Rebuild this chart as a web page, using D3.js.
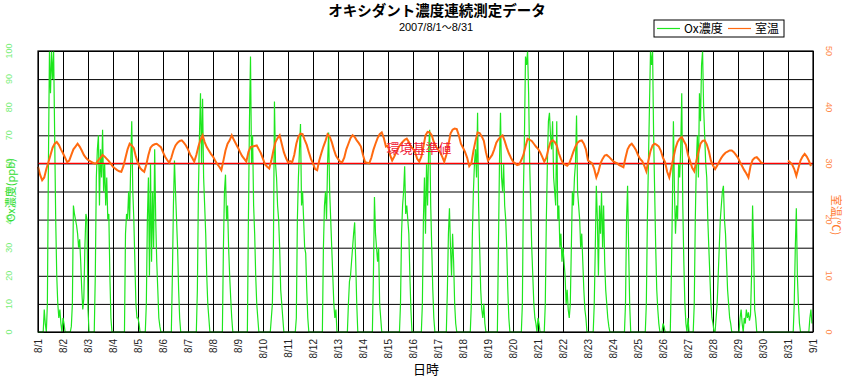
<!DOCTYPE html>
<html><head><meta charset="utf-8">
<script src="https://cdn.jsdelivr.net/npm/d3@7"></script>
<style>
body{margin:0;background:#fff}
svg{display:block;font-family:"Liberation Sans",Arial,sans-serif}
</style></head>
<body><svg id="c" width="846" height="378"></svg>
<script>
// ---- data ----
const dateLabels = ["8/1","8/2","8/3","8/4","8/5","8/6","8/7","8/8","8/9","8/10","8/11","8/12","8/13","8/14","8/15","8/16","8/17","8/18","8/19","8/20","8/21","8/22","8/23","8/24","8/25","8/26","8/27","8/28","8/29","8/30","8/31","9/1"];
const oxTicks = [0,10,20,30,40,50,60,70,80,90,100];
const tempTicks = [0,10,20,30,40,50];
const standardOx = 60;
// hourly Ox (ppb), 8/1 0:00 .. 8/31 23:00
const oxValues = [
0,0,0,0,0,0,8,3,0,10,60,100,85,100,90,100,70,40,20,10,5,8,3,0,
5,3,0,0,0,0,0,0,2,10,45,42,40,38,35,30,33,25,15,8,12,30,42,40,
8,0,0,0,0,0,0,20,55,65,70,45,65,55,72,50,60,45,55,40,42,20,5,0,
0,0,0,0,0,0,0,0,0,0,0,0,35,42,40,50,40,60,75,50,40,25,10,5,
5,3,0,0,0,0,0,0,10,40,55,20,60,25,50,30,65,40,25,15,5,2,0,0,
0,0,0,0,0,0,0,0,0,20,45,61,50,40,30,15,5,0,0,0,0,0,0,0,
0,0,0,0,0,0,0,0,0,15,50,70,85,60,83,55,45,35,20,10,5,0,0,0,
0,0,0,0,0,0,0,0,0,0,30,50,56,40,45,30,20,12,5,0,0,0,0,0,
0,0,0,0,0,0,0,0,0,0,40,75,98,60,70,45,35,20,10,5,0,0,0,0,
0,0,0,0,0,0,0,0,5,10,30,82,60,55,45,40,30,15,10,5,0,0,0,0,
0,0,0,0,0,0,0,0,5,40,55,65,74,45,50,40,30,28,15,5,0,0,0,0,
0,0,0,0,0,0,0,0,0,0,30,45,50,40,60,71,50,40,30,20,10,5,8,0,
0,0,0,0,0,0,0,0,0,0,10,18,20,25,30,35,39,25,10,0,0,0,0,0,
0,0,0,0,0,0,0,0,0,0,20,48,35,30,25,30,10,5,0,0,0,0,0,0,
0,0,0,0,0,0,0,0,0,0,0,0,10,35,45,50,59,42,45,40,35,20,8,0,
0,0,0,0,0,0,0,0,0,10,40,55,35,60,45,65,72,45,30,15,5,0,0,0,
0,0,0,0,0,0,0,0,0,15,35,44,30,20,35,25,10,3,0,0,0,0,0,0,
0,0,0,0,0,0,0,0,10,35,50,60,65,55,78,45,30,15,8,5,10,3,0,0,
0,0,0,0,0,0,0,0,0,0,30,60,78,55,50,60,45,40,30,15,5,0,0,0,
0,0,0,0,0,0,0,0,0,10,50,70,98,95,100,85,60,45,30,20,10,5,3,0,
5,3,0,0,0,0,0,10,40,60,75,78,70,65,75,55,50,45,75,40,45,30,35,25,
30,25,20,10,15,8,5,10,30,50,45,55,60,77,50,45,40,30,35,25,15,8,5,0,
0,0,0,0,0,0,10,30,52,40,20,45,35,50,30,45,25,15,10,5,2,0,0,0,
0,0,0,0,0,0,0,0,0,0,0,0,10,40,52,30,10,0,0,0,0,0,0,0,
0,0,0,0,0,0,0,0,10,40,60,80,100,95,100,70,50,30,15,8,3,0,0,0,
3,2,0,0,0,0,0,0,20,45,75,50,35,45,40,60,55,65,85,45,25,10,3,0,
5,0,0,0,0,0,10,40,60,70,55,85,75,95,100,80,70,60,55,40,30,20,10,5,
3,0,0,5,10,20,30,40,45,50,52,40,35,25,15,10,5,3,0,0,0,0,0,0,
0,0,5,8,3,0,5,3,8,5,7,4,6,20,45,30,8,5,0,0,0,0,0,0,
0,0,0,0,0,0,0,0,0,0,0,0,0,0,0,0,0,0,0,0,0,0,0,0,
0,0,0,0,0,0,10,30,44,20,10,3,0,0,0,0,0,0,0,0,0,5,8,3
];
// 2-hourly room temperature (°C), null = missing
const tempValues = [
29.4,28,27,27.5,29,30.2,31.5,32.8,33.5,33.8,33.3,32.5,
31.8,31,30.2,30.5,31.5,32.5,33,33.5,33,32.3,31.5,31,
30.6,30.4,30.2,30,30,30.6,31,31.5,31.2,30.8,30.4,29.9,
29.4,29.1,28.8,28.6,28.5,29.5,31,32.5,33.5,33.2,32.7,31.2,
30,29.2,28.8,28.5,29.8,31.5,32.8,33.2,33.4,33.5,33.2,32.9,
32,31.2,30.6,30.1,31,32.3,33.2,33.7,34,34.1,33.7,33.2,
32.5,31.6,31,30.3,31.5,33,34.2,35,33.8,32.9,32.3,31.7,
31.2,30.5,29.9,29.4,28.8,30.5,32.3,33.5,34.1,35,34.2,33.5,
32.8,32,31.3,30.8,30.3,32,32.9,33,33.1,33.2,32.5,31.8,
30.8,29.8,29.4,29.1,30.5,32.3,33.8,34.5,35,33.5,32,31,
30.2,30.4,30.2,31.5,33.5,34.8,35.3,35.2,34.2,33.3,32,30.8,
30,29,28.8,30.5,31.8,33,34,35.2,34.8,33.8,32.5,31.4,
30.8,30.3,30.2,31,32.5,33.5,34.5,35,34.7,34.1,33.6,33,
31.5,30.2,30.1,30,31,32.4,33.5,34.5,35.2,35.5,34.5,33,
33.2,31.5,30.5,31.2,32,32.8,33.4,33.8,34.2,34.4,33.8,33,
32.6,32,30.8,30.3,31.2,33,35,35.6,35.5,35,33.8,33,
32.5,32,31.2,30.3,31.5,33.3,35.3,36,36.2,36.1,35,33.5,
32.8,32,31,29.5,30,32.2,34,35.5,35.4,34.8,34,32,
30.5,31,31.5,32.5,33.7,34.3,34.7,35,34,32.8,31.8,31,
30.3,30,29.7,29.8,30.6,31.5,33,34.4,34.2,34,33.5,33,
32.6,32,31.2,30.3,31,32.6,33.8,34.1,33.8,33.2,31.8,30.8,
30,29.8,29.6,30,31,32.1,33,33.7,34,34.1,33.5,32.5,
30.5,30.3,30,29,27.5,28.5,30,30.8,31.4,31.5,31.2,30.8,
30.4,30.2,30,29.7,29.5,29.3,31,32.5,33.2,33.5,33,32.4,
31.5,30.8,30.4,29.6,28.6,30.5,32.2,33.2,33.5,33.3,33,32.2,
31,30.2,28.5,27.5,29.3,31,32.7,33.8,34.4,34.7,34,33.3,
31.5,30.4,29.2,28.6,30.4,32,33.5,34,34.1,33.4,32.2,30.5,
29.6,29,29.6,30.3,31,31.5,31.9,32.1,32.3,32.3,32,31.5,
31,30.2,29.5,28.8,28.2,27.5,29.5,30.6,31,31.1,30.7,30.2,
30,null,null,null,null,null,null,null,null,null,null,null,
30.5,30.2,29.8,29,27.8,29.2,30.5,31.2,31.7,31.2,30.5,29.5
];

// ---- layout ----
const svg = d3.select("#c");
const L = 38, R = 813, T = 51, B = 332;
const jp = '"Noto Sans CJK JP","Liberation Sans",sans-serif';
const x = d3.scaleLinear().domain([0, 31*24]).range([L, R]);
const yOx = d3.scaleLinear().domain([0, 100]).range([B, T]);
const yT = d3.scaleLinear().domain([0, 50]).range([B, T]);
const dayTicks = d3.range(dateLabels.length).map(d => d*24);

// grid
svg.append("g").attr("transform", `translate(0,${B})`)
  .call(d3.axisBottom(x).tickValues(dayTicks).tickSize(-(B-T)).tickFormat(""))
  .call(g => { g.select(".domain").remove(); g.selectAll("line").attr("stroke","#000").attr("stroke-width",1); });
svg.append("g").attr("transform", `translate(${L},0)`)
  .call(d3.axisLeft(yOx).tickValues(oxTicks).tickSize(-(R-L)).tickFormat(""))
  .call(g => { g.select(".domain").remove(); g.selectAll("line").attr("stroke","#000").attr("stroke-width",1); });

// Ox line
const oxLine = d3.line().x((d,i) => x(i)).y(d => yOx(d));
svg.append("path").datum(oxValues).attr("d", oxLine)
  .attr("fill","none").attr("stroke","#1ee61e").attr("stroke-width",1.2);

// standard line
svg.append("line").attr("x1",L).attr("x2",R).attr("y1",yOx(standardOx)).attr("y2",yOx(standardOx))
  .attr("stroke","#ff0000").attr("stroke-width",1.3);

// temperature line
const tLine = d3.line().defined(d => d != null).x((d,i) => x(i*2)).y(d => yT(d));
svg.append("path").datum(tempValues).attr("d", tLine)
  .attr("fill","none").attr("stroke","#ff6a10").attr("stroke-width",2);

svg.append("text").attr("x",419).attr("y",153).attr("text-anchor","middle")
  .attr("font-family",jp).attr("font-size",13).attr("fill","#f01838").text("環境基準値");

// frame
svg.append("rect").attr("x",L).attr("y",T).attr("width",R-L).attr("height",B-T)
  .attr("fill","none").attr("stroke","#000").attr("stroke-width",1.2);

// x labels
svg.append("g").selectAll("text").data(dateLabels).join("text")
  .attr("transform",(d,i) => `translate(${x(dayTicks[i])},339) rotate(-90)`)
  .attr("text-anchor","end").attr("dy","0.35em")
  .attr("font-size",10).attr("fill","#222").text(d => d);

// left tick labels
svg.append("g").selectAll("text").data(oxTicks).join("text")
  .attr("transform", d => `translate(12,${yOx(d)}) rotate(-90)`)
  .attr("text-anchor","middle").attr("font-size",9).attr("fill","#77ee77").text(d => d);
// right tick labels
svg.append("g").selectAll("text").data(tempTicks).join("text")
  .attr("transform", d => `translate(826,${yT(d)}) rotate(90)`)
  .attr("text-anchor","middle").attr("font-size",9).attr("fill","#ff8a4a").text(d => d);

// axis titles
svg.append("text").attr("transform",`translate(15,190) rotate(-90)`).attr("text-anchor","middle")
  .attr("font-family",jp).attr("font-size",11).attr("fill","#33dd33").text("Ox濃度(ppb)");
svg.append("text").attr("transform",`translate(832,215) rotate(90)`).attr("text-anchor","middle")
  .attr("font-family",jp).attr("font-size",11).attr("fill","#ff7a30").text("室温(℃)");
svg.append("text").attr("x",426).attr("y",374).attr("text-anchor","middle")
  .attr("font-family",jp).attr("font-size",13).attr("fill","#000").text("日時");

// titles
svg.append("text").attr("x",437).attr("y",16).attr("text-anchor","middle")
  .attr("font-family",jp).attr("font-weight","bold").attr("font-size",14.5).attr("fill","#000")
  .text("オキシダント濃度連続測定データ");
const sub = svg.append("text").attr("x",436).attr("y",31).attr("text-anchor","middle")
  .attr("font-family",'"Liberation Sans",Arial,sans-serif').attr("font-size",11).attr("fill","#000");
sub.append("tspan").text("2007/8/1");
sub.append("tspan").attr("font-family",jp).attr("font-size",10).text("～");
sub.append("tspan").text("8/31");

// legend
const lg = svg.append("g");
lg.append("rect").attr("x",654).attr("y",20).attr("width",130).attr("height",17)
  .attr("fill","#fff").attr("stroke","#000").attr("stroke-width",1);
const legendItems = [{label:"Ox濃度", color:"#1ee61e", x:657}, {label:"室温", color:"#ff6a10", x:728}];
legendItems.forEach(it => {
  lg.append("line").attr("x1",it.x).attr("x2",it.x+23).attr("y1",28.5).attr("y2",28.5)
    .attr("stroke",it.color).attr("stroke-width",1.2);
  lg.append("text").attr("x",it.x+27).attr("y",33).attr("font-family",jp).attr("font-size",12)
    .attr("fill","#000").text(it.label);
});
</script></body></html>
